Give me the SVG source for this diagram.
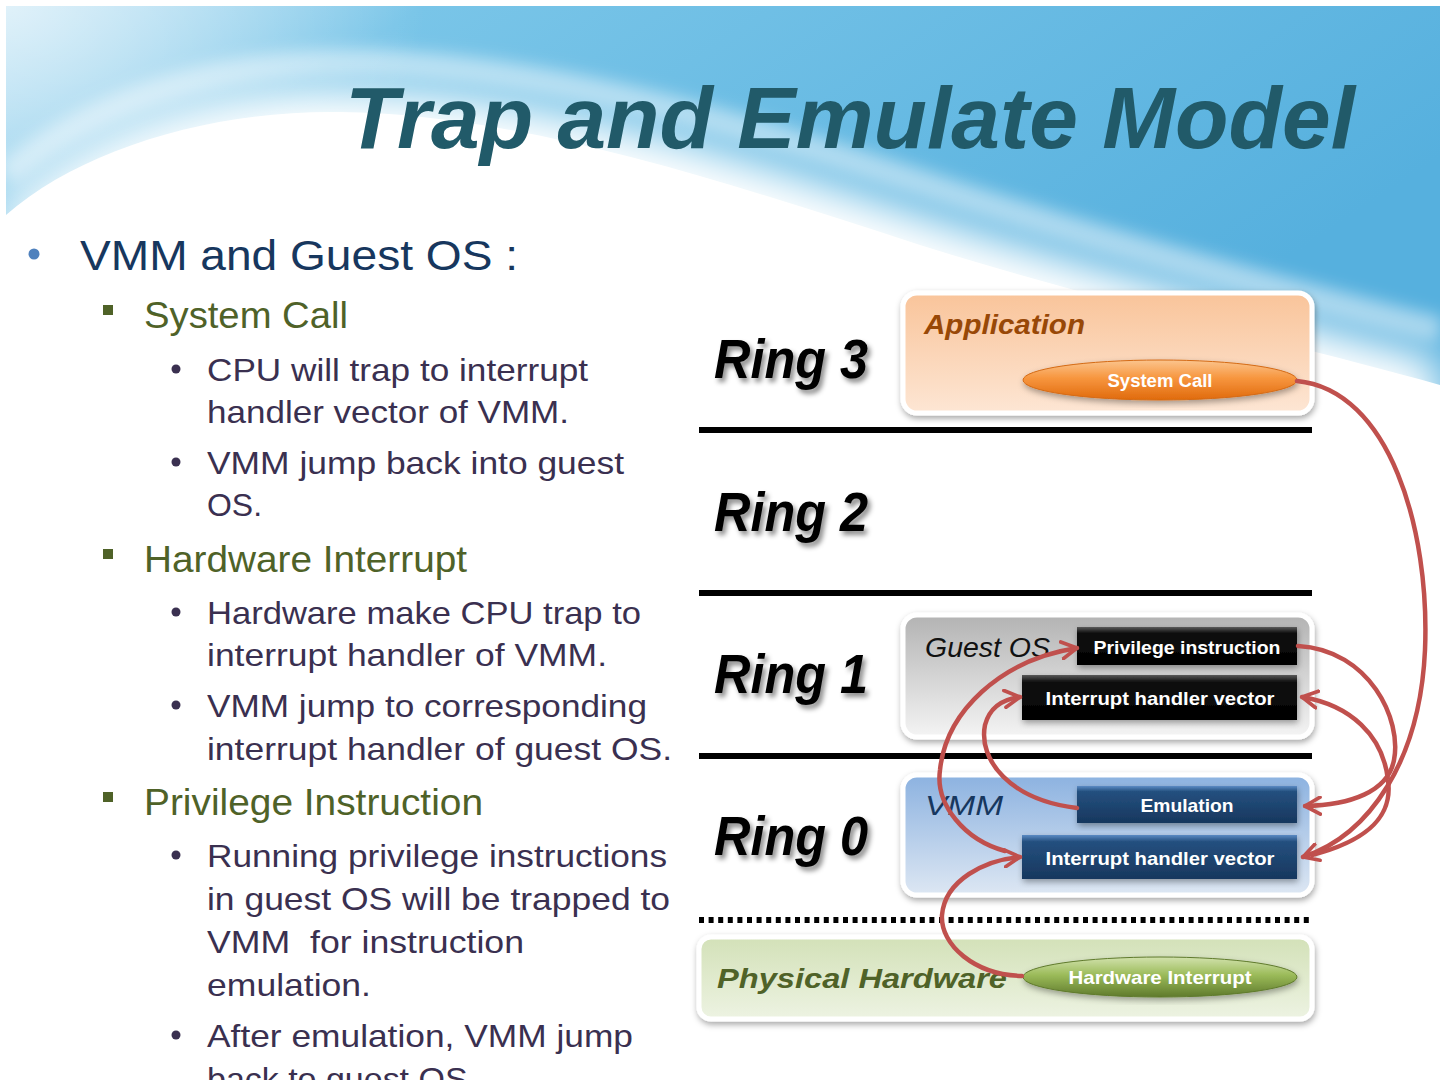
<svg xmlns="http://www.w3.org/2000/svg" width="1440" height="1080" viewBox="0 0 1440 1080">
<defs>
<linearGradient id="sky" x1="0" y1="0" x2="1" y2="0.4">
<stop offset="0" stop-color="#b9e0f3"/>
<stop offset="0.25" stop-color="#79c5e8"/>
<stop offset="1" stop-color="#56b0de"/>
</linearGradient>
<radialGradient id="corner" cx="0" cy="0" r="1" gradientUnits="userSpaceOnUse" gradientTransform="translate(6,6) scale(420,260)">
<stop offset="0" stop-color="#ffffff" stop-opacity="0.55"/>
<stop offset="1" stop-color="#ffffff" stop-opacity="0"/>
</radialGradient>
<filter id="blur25" x="-20%" y="-50%" width="140%" height="200%"><feGaussianBlur stdDeviation="22"/></filter>
<filter id="blur8" x="-20%" y="-50%" width="140%" height="200%"><feGaussianBlur stdDeviation="8"/></filter>
<filter id="tshadow" x="-10%" y="-20%" width="130%" height="150%"><feDropShadow dx="3" dy="4" stdDeviation="2.5" flood-color="#000" flood-opacity="0.45"/></filter>
<filter id="bshadow" x="-5%" y="-10%" width="112%" height="130%"><feDropShadow dx="1" dy="3" stdDeviation="3" flood-color="#000" flood-opacity="0.35"/></filter>
<linearGradient id="gApp" x1="0" y1="0" x2="0" y2="1"><stop offset="0" stop-color="#f9c49a"/><stop offset="1" stop-color="#fde6d4"/></linearGradient>
<linearGradient id="gGuest" x1="0" y1="0" x2="0" y2="1"><stop offset="0" stop-color="#b3b3b3"/><stop offset="1" stop-color="#f4f4f4"/></linearGradient>
<linearGradient id="gVmm" x1="0" y1="0" x2="0" y2="1"><stop offset="0" stop-color="#8cb2e0"/><stop offset="1" stop-color="#dde7f3"/></linearGradient>
<linearGradient id="gHw" x1="0" y1="0" x2="0" y2="1"><stop offset="0" stop-color="#d3e1b8"/><stop offset="1" stop-color="#edf3e2"/></linearGradient>
<linearGradient id="gBlack" x1="0" y1="0" x2="0" y2="1"><stop offset="0" stop-color="#5a5a5a"/><stop offset="0.15" stop-color="#111"/><stop offset="1" stop-color="#000"/></linearGradient>
<linearGradient id="gBlue" x1="0" y1="0" x2="0" y2="1"><stop offset="0" stop-color="#5b8ac4"/><stop offset="0.15" stop-color="#24507f"/><stop offset="1" stop-color="#17375e"/></linearGradient>
<linearGradient id="gOrange" x1="0" y1="0" x2="0" y2="1"><stop offset="0" stop-color="#fbc58e"/><stop offset="0.45" stop-color="#f7963f"/><stop offset="1" stop-color="#e06a0c"/></linearGradient>
<linearGradient id="gGreen" x1="0" y1="0" x2="0" y2="1"><stop offset="0" stop-color="#d2e2ad"/><stop offset="0.45" stop-color="#9bbb59"/><stop offset="1" stop-color="#5f7a2c"/></linearGradient>
<marker id="ah" viewBox="0 0 12 12" refX="10" refY="6" markerWidth="4.5" markerHeight="4.5" markerUnits="strokeWidth" orient="auto-start-reverse">
<path d="M1,1 L10,6 L1,11" fill="none" stroke="#c0504d" stroke-width="2.2" stroke-linecap="round" stroke-linejoin="round"/>
</marker>
<style>
.title{font-family:"Liberation Sans",Arial,sans-serif;font-style:italic;font-weight:bold;font-size:87px;fill:#215a69}
.l1{font-family:"Liberation Sans",Arial,sans-serif;font-size:42px;fill:#17375e}
.l2{font-family:"Liberation Sans",Arial,sans-serif;font-size:36px;fill:#4f6228}
.l3{font-family:"Liberation Sans",Arial,sans-serif;font-size:32px;fill:#3a3050}
.ring{font-family:"Liberation Sans",Arial,sans-serif;font-style:italic;font-weight:bold;font-size:56px;fill:#000;filter:url(#tshadow)}
.lab{font-family:"Liberation Sans",Arial,sans-serif;font-style:italic;font-size:28px}
.btxt{font-family:"Liberation Sans",Arial,sans-serif;font-weight:bold;font-size:19px;fill:#fff;text-anchor:middle}
.panel{stroke:#fff;stroke-width:5;filter:url(#bshadow)}
.blk{stroke:none;filter:url(#bshadow)}
.sep{stroke:#000;stroke-width:6}
.arr{fill:none;stroke:#c0504d;stroke-width:4.5;stroke-linecap:round;marker-end:url(#ah)}
</style>
</defs>

<!-- slide background -->
<rect x="0" y="0" width="1440" height="1080" fill="#ffffff"/>
<g id="background">
<rect x="6" y="6" width="1434" height="380" fill="url(#sky)"/>
<path d="M6,210 C80,140 200,92 330,90 C520,88 720,150 920,215 C1110,275 1300,320 1440,360 L1440,470 L6,470 Z" fill="#ffffff" filter="url(#blur25)"/>
<path d="M6,215 C80,150 210,110 340,112 C520,114 720,180 920,245 C1110,305 1300,345 1440,385 L1440,1080 L6,1080 Z" fill="#ffffff"/>
<path d="M6,175 C90,100 220,60 360,62 C560,66 760,130 960,195 C1150,255 1320,300 1440,330" fill="none" stroke="#ffffff" stroke-opacity="0.45" stroke-width="26" filter="url(#blur8)"/>
<rect x="6" y="6" width="1434" height="300" fill="url(#corner)"/>
</g>

<text class="title" x="345" y="148" textLength="1010" lengthAdjust="spacingAndGlyphs">Trap and Emulate Model</text>

<!-- bullet text -->
<g id="bullets">
<circle cx="34" cy="254" r="5.5" fill="#4f81bd"/>
<text class="l1" x="80" y="270" textLength="438" lengthAdjust="spacingAndGlyphs">VMM and Guest OS :</text>

<rect x="103" y="305" width="10" height="10" fill="#4f6228"/>
<text class="l2" x="144" y="328" textLength="204" lengthAdjust="spacingAndGlyphs">System Call</text>
<circle cx="176" cy="369" r="4.5" fill="#3a3050"/>
<text class="l3" x="207" y="381" textLength="381" lengthAdjust="spacingAndGlyphs">CPU will trap to interrupt</text>
<text class="l3" x="207" y="423" textLength="362" lengthAdjust="spacingAndGlyphs">handler vector of VMM.</text>
<circle cx="176" cy="462" r="4.5" fill="#3a3050"/>
<text class="l3" x="207" y="474" textLength="417" lengthAdjust="spacingAndGlyphs">VMM jump back into guest</text>
<text class="l3" x="207" y="516" textLength="55" lengthAdjust="spacingAndGlyphs">OS.</text>

<rect x="103" y="549" width="10" height="10" fill="#4f6228"/>
<text class="l2" x="144" y="572" textLength="323" lengthAdjust="spacingAndGlyphs">Hardware Interrupt</text>
<circle cx="176" cy="612" r="4.5" fill="#3a3050"/>
<text class="l3" x="207" y="624" textLength="434" lengthAdjust="spacingAndGlyphs">Hardware make CPU trap to</text>
<text class="l3" x="207" y="666" textLength="400" lengthAdjust="spacingAndGlyphs">interrupt handler of VMM.</text>
<circle cx="176" cy="705" r="4.5" fill="#3a3050"/>
<text class="l3" x="207" y="717" textLength="440" lengthAdjust="spacingAndGlyphs">VMM jump to corresponding</text>
<text class="l3" x="207" y="760" textLength="465" lengthAdjust="spacingAndGlyphs">interrupt handler of guest OS.</text>

<rect x="103" y="792" width="10" height="10" fill="#4f6228"/>
<text class="l2" x="144" y="815" textLength="339" lengthAdjust="spacingAndGlyphs">Privilege Instruction</text>
<circle cx="176" cy="855" r="4.5" fill="#3a3050"/>
<text class="l3" x="207" y="867" textLength="460" lengthAdjust="spacingAndGlyphs">Running privilege instructions</text>
<text class="l3" x="207" y="910" textLength="463" lengthAdjust="spacingAndGlyphs">in guest OS will be trapped to</text>
<text class="l3" x="207" y="953" textLength="317" lengthAdjust="spacingAndGlyphs" xml:space="preserve">VMM  for instruction</text>
<text class="l3" x="207" y="996" textLength="164" lengthAdjust="spacingAndGlyphs">emulation.</text>
<circle cx="176" cy="1035" r="4.5" fill="#3a3050"/>
<text class="l3" x="207" y="1047" textLength="426" lengthAdjust="spacingAndGlyphs">After emulation, VMM jump</text>
<text class="l3" x="207" y="1090" textLength="270" lengthAdjust="spacingAndGlyphs">back to guest OS.</text>
</g>

<!-- ring labels and separators -->
<g id="rings">
<text class="ring" x="714" y="378" textLength="154" lengthAdjust="spacingAndGlyphs">Ring 3</text>
<text class="ring" x="714" y="531" textLength="154" lengthAdjust="spacingAndGlyphs">Ring 2</text>
<text class="ring" x="714" y="693" textLength="154" lengthAdjust="spacingAndGlyphs">Ring 1</text>
<text class="ring" x="714" y="855" textLength="154" lengthAdjust="spacingAndGlyphs">Ring 0</text>
<line class="sep" x1="699" y1="430" x2="1312" y2="430"/>
<line class="sep" x1="699" y1="593" x2="1312" y2="593"/>
<line class="sep" x1="699" y1="756" x2="1312" y2="756"/>
<line x1="699" y1="920" x2="1312" y2="920" stroke="#000" stroke-width="6" stroke-dasharray="5 4.6"/>
</g>

<g id="application">
<rect class="panel" x="903" y="293" width="409" height="120" rx="14" fill="url(#gApp)"/>
<text class="lab" x="924" y="334" fill="#984807" font-weight="bold" textLength="161" lengthAdjust="spacingAndGlyphs">Application</text>
</g>
<g id="system-call">
<ellipse cx="1160" cy="380" rx="137" ry="20" fill="url(#gOrange)" stroke="#d46a14" stroke-width="1" filter="url(#bshadow)"/>
<text class="btxt" x="1160" y="387" textLength="105" lengthAdjust="spacingAndGlyphs">System Call</text>
</g>

<g id="guest-os">
<rect class="panel" x="903" y="615" width="409" height="122" rx="14" fill="url(#gGuest)"/>
<text class="lab" x="925" y="657" fill="#111" textLength="125" lengthAdjust="spacingAndGlyphs">Guest OS</text>
</g>
<g id="privilege-instruction">
<rect class="blk" x="1077" y="627" width="220" height="38" fill="url(#gBlack)"/>
<text class="btxt" x="1187" y="654" textLength="187" lengthAdjust="spacingAndGlyphs">Privilege instruction</text>
</g>
<g id="guest-ihv">
<rect class="blk" x="1022" y="675" width="275" height="45" fill="url(#gBlack)"/>
<text class="btxt" x="1160" y="705" textLength="229" lengthAdjust="spacingAndGlyphs">Interrupt handler vector</text>
</g>

<g id="vmm">
<rect class="panel" x="903" y="775" width="409" height="120" rx="14" fill="url(#gVmm)"/>
<text class="lab" x="925" y="815" fill="#17375e" textLength="78" lengthAdjust="spacingAndGlyphs">VMM</text>
</g>
<g id="emulation">
<rect class="blk" x="1077" y="786" width="220" height="37" fill="url(#gBlue)"/>
<text class="btxt" x="1187" y="812" textLength="93" lengthAdjust="spacingAndGlyphs">Emulation</text>
</g>
<g id="vmm-ihv">
<rect class="blk" x="1022" y="835" width="275" height="44" fill="url(#gBlue)"/>
<text class="btxt" x="1160" y="865" textLength="229" lengthAdjust="spacingAndGlyphs">Interrupt handler vector</text>
</g>

<g id="physical-hardware">
<rect class="panel" x="699" y="937" width="613" height="82" rx="12" fill="url(#gHw)"/>
<text class="lab" x="717" y="988" fill="#4f6228" font-weight="bold" font-size="31" textLength="290" lengthAdjust="spacingAndGlyphs">Physical Hardware</text>
</g>
<g id="hardware-interrupt">
<ellipse cx="1160" cy="977" rx="137" ry="20" fill="url(#gGreen)" stroke="#5f7a2c" stroke-width="1" filter="url(#bshadow)"/>
<text class="btxt" x="1160" y="984" textLength="183" lengthAdjust="spacingAndGlyphs">Hardware Interrupt</text>
</g>

<!-- connectors -->
<g id="connectors">
<path class="arr" d="M1297,381 C1390,390 1430,530 1425,650 C1420,760 1370,835 1303,857"/>
<path class="arr" d="M1298,646 C1370,650 1402,720 1394,760 C1388,792 1350,805 1305,806"/>
<path class="arr" d="M1312,855 C1370,840 1393,815 1388,780 C1383,735 1350,705 1302,697"/>
<path class="arr" d="M1077,808 C1010,800 978,760 985,725 C990,706 1004,699 1020,697"/>
<path class="arr" d="M1005,851 C965,840 935,805 940,770 C946,712 1000,660 1077,648"/>
<path class="arr" d="M1022,976 C975,975 940,945 942,915 C945,880 985,860 1020,857"/>
</g>
</svg>
